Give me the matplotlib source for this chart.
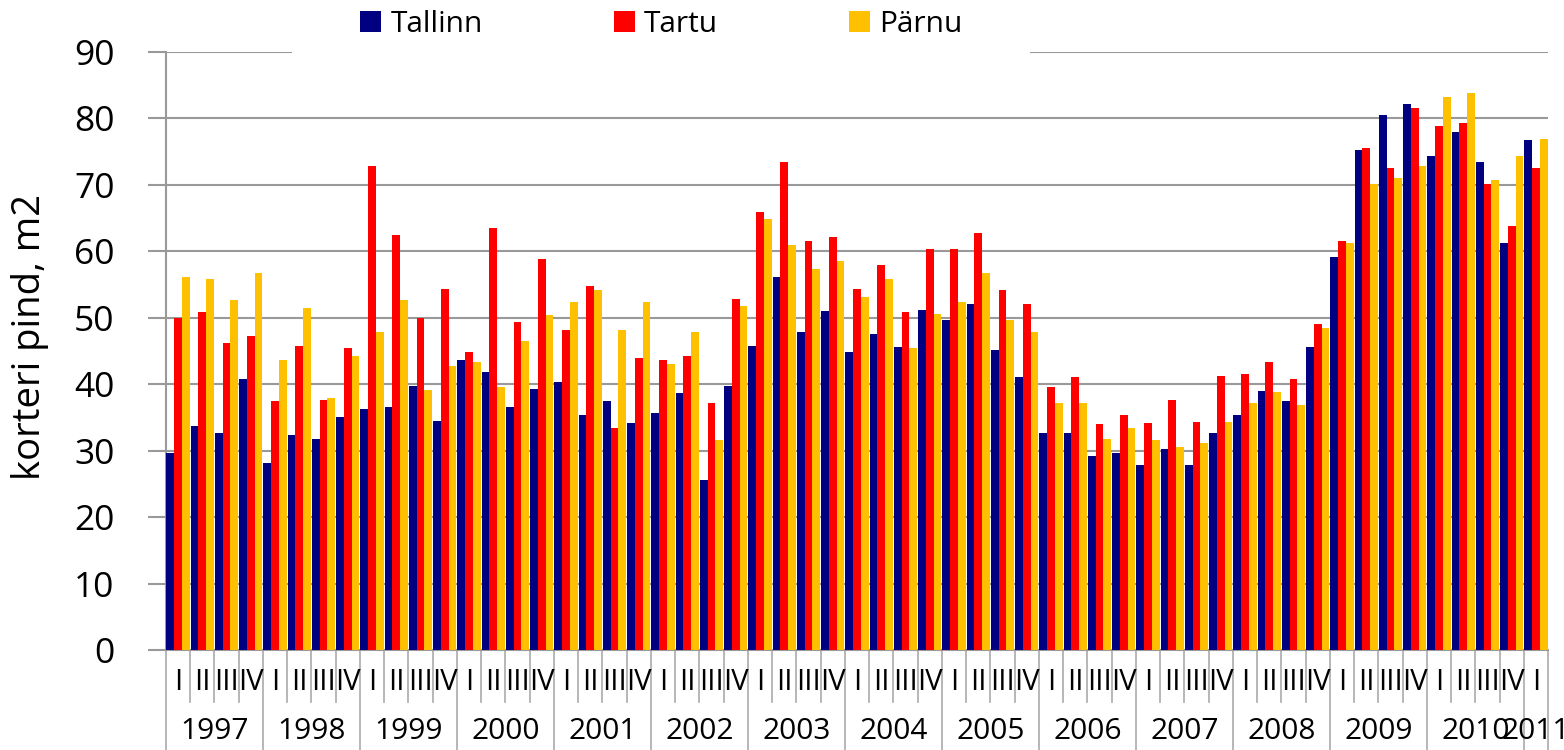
import numpy as np
import matplotlib
matplotlib.use("Agg")
import matplotlib.pyplot as plt
from matplotlib.patches import Rectangle, Patch

plt.rcParams['font.family'] = ['Open Sans', 'DejaVu Sans']

years = [str(y) for y in range(1997, 2012)]
quarter_names = ["I", "II", "III", "IV"]

tallinn = [29.6, 33.7, 32.7, 40.8, 28.2, 32.4, 31.8, 35.0, 36.3, 36.6, 39.7, 34.5,
           43.6, 41.9, 36.5, 39.3, 40.4, 35.4, 37.5, 34.2, 35.6, 38.7, 25.6, 39.7,
           45.8, 56.1, 47.8, 51.0, 44.8, 47.6, 45.6, 51.1, 49.6, 52.1, 45.2, 41.1,
           32.7, 32.7, 29.2, 29.7, 27.9, 30.2, 27.9, 32.7, 35.3, 39.0, 37.5, 45.6,
           59.2, 75.2, 80.5, 82.1, 74.3, 77.9, 73.5, 61.3, 76.7]
tartu = [49.9, 50.8, 46.2, 47.3, 37.4, 45.8, 37.7, 45.5, 72.9, 62.4, 49.9, 54.4,
         44.8, 63.5, 49.4, 58.9, 48.1, 54.8, 33.4, 44.0, 43.6, 44.2, 37.1, 52.9,
         65.9, 73.5, 61.5, 62.1, 54.4, 57.9, 50.8, 60.4, 60.4, 62.7, 54.2, 52.0,
         39.6, 41.1, 34.0, 35.4, 34.2, 37.7, 34.3, 41.3, 41.6, 43.3, 40.8, 49.0,
         61.5, 75.5, 72.5, 81.5, 78.8, 79.3, 70.2, 63.8, 72.5]
parnu = [56.2, 55.8, 52.7, 56.8, 43.7, 51.5, 38.0, 44.3, 47.9, 52.7, 39.2, 42.8,
         43.4, 39.6, 46.5, 50.4, 52.3, 54.2, 48.2, 52.3, 43.0, 47.8, 31.6, 51.8,
         64.8, 60.9, 57.3, 58.6, 53.2, 55.8, 45.5, 50.5, 52.4, 56.7, 49.6, 47.8,
         37.2, 37.2, 31.8, 33.4, 31.6, 30.6, 31.2, 34.3, 37.2, 38.9, 36.9, 48.5,
         61.3, 70.2, 71.0, 72.8, 83.2, 83.9, 70.7, 74.3, 76.9]

series = [("Tallinn", tallinn, "#000080"), ("Tartu", tartu, "#FF0000"), ("Pärnu", parnu, "#FFC000")]

n = len(tallinn)
x = np.arange(n) + 0.5
w = 0.32

fig = plt.figure(figsize=(15.64, 7.5), dpi=100)
ax = fig.add_axes([166 / 1564, 1 - 650 / 750, (1548 - 166) / 1564, 598 / 750])

for k, (name, vals, col) in enumerate(series):
    ax.bar(x + (k - 1) * w, vals, width=w, color=col, linewidth=0, zorder=3)

ax.set_xlim(0, n)
ax.set_ylim(0, 90)
ax.set_yticks(range(0, 91, 10))
ax.yaxis.grid(True, color="#999999", linewidth=1.5, zorder=0)
ax.tick_params(axis='y', labelsize=25.5, length=13, width=1.5, color="#999999", pad=24)
ax.set_xticks([])
for s in ["top", "right"]:
    ax.spines[s].set_visible(False)
for s in ["left", "bottom"]:
    ax.spines[s].set_color("#999999")
    ax.spines[s].set_linewidth(1.5)
fig.text(30 / 1564, 1 - 337 / 750, "korteri pind, m2", rotation=90,
         ha="center", va="center", fontsize=27.5)

# multi-level category axis
tr = ax.get_xaxis_transform()
for i in range(n + 1):
    bottom = -0.17 if i % 4 == 0 or i == n else -0.087
    ax.plot([i, i], [0, bottom], transform=tr, color="#aaaaaa", lw=1.2, clip_on=False)
for i in range(n):
    ax.text(x[i], -0.054, quarter_names[i % 4], transform=tr, ha="center", va="center", fontsize=21)
for j, yr in enumerate(years):
    start = j * 4
    end = min(start + 4, n)
    ax.text((start + end) / 2, -0.137, yr, transform=tr, ha="center", va="center", fontsize=21.5)

# white box behind the legend covering the top gridline
fig.add_artist(Rectangle((292 / 1564, 1 - 60 / 750), (1030 - 292) / 1564, 60 / 750,
                         transform=fig.transFigure, facecolor="white", edgecolor="none", zorder=5))
handles = [Patch(facecolor=c, edgecolor="none", label=nm) for nm, _, c in series]
leg = fig.legend(handles=handles, loc="center", bbox_to_anchor=(0.423, 1 - 24 / 750), ncol=3,
                 frameon=False, fontsize=21.5, handlelength=0.7, handleheight=0.7,
                 handletextpad=0.3, columnspacing=4.4)
leg.set_zorder(6)

fig.savefig("out.png", dpi=100)
